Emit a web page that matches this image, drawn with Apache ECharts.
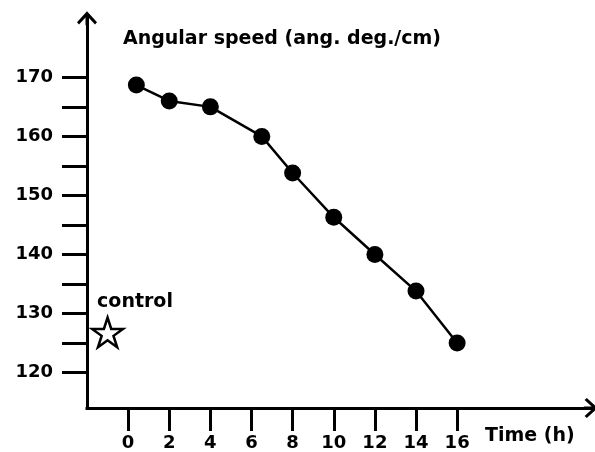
<!DOCTYPE html>
<html>
<head>
<meta charset="utf-8">
<script src="https://cdn.jsdelivr.net/npm/echarts@6/dist/echarts.min.js"></script>
<style>
  html, body { margin: 0; padding: 0; background: #fff; }
  #chart { width: 595px; height: 452px; }
</style>
</head>
<body>
<div id="chart"></div>
<script>
// ---- data ----
const timeH = [0.4, 2, 4, 6.5, 8, 10, 12, 14, 16];
const speed = [168.7, 166.0, 165.0, 160.0, 153.8, 146.3, 140.0, 133.8, 125.0];
const controlTime = -1;
const controlSpeed = 126.8;
const controlLabel = 'control';
const yTickValues = [120, 125, 130, 135, 140, 145, 150, 155, 160, 165, 170];
const yLabelValues = [120, 130, 140, 150, 160, 170];
const xTickValues = [0, 2, 4, 6, 8, 10, 12, 14, 16];
const titleText = 'Angular speed (ang. deg./cm)';
const xName = 'Time (h)';

const FONT = 'DejaVu Sans';
const arrowPath = 'path://M10,0 L20,11 L18,13.2 L11.5,6.1 L11.5,14 L8.5,14 L8.5,6.1 L2,13.2 L0,11 Z';
const starPath = 'path://M50,0 L61.23,34.55 L97.55,34.55 L68.17,55.9 L79.39,90.45 L50,69.1 L20.61,90.45 L31.83,55.9 L2.45,34.55 L38.77,34.55 Z';

const lineData = timeH.map((t, i) => [t, speed[i]]);

const axisCommon = {
  type: 'value',
  axisLine: {
    show: true,
    onZero: false,
    symbol: ['none', arrowPath],
    symbolSize: [20, 14],
    lineStyle: { color: '#000', width: 3, cap: 'square' }
  },
  splitLine: { show: false },
  axisTick: { show: true, inside: false, lineStyle: { color: '#000', width: 3 } },
  axisLabel: { color: '#000', fontFamily: FONT, fontWeight: 'bold', fontSize: 18 }
};

const chart = echarts.init(document.getElementById('chart'), null, { renderer: 'canvas' });
chart.setOption({
  animation: false,
  backgroundColor: '#fff',
  title: [
    {
      text: titleText, left: 123, top: 30, padding: 0,
      textStyle: { color: '#000', fontFamily: FONT, fontWeight: 'bold', fontSize: 19 }
    },
    {
      text: xName, left: 485, top: 427, padding: 0,
      textStyle: { color: '#000', fontFamily: FONT, fontWeight: 'bold', fontSize: 19 }
    }
  ],
  grid: { left: 87, right: 4.2, top: 18.3, bottom: 43, containLabel: false },
  xAxis: Object.assign({}, axisCommon, {
    min: -2, max: 22.5,
    axisTick: Object.assign({}, axisCommon.axisTick, { length: 23, customValues: xTickValues }),
    axisLabel: Object.assign({}, axisCommon.axisLabel, { margin: 26, customValues: xTickValues })
  }),
  yAxis: Object.assign({}, axisCommon, {
    min: 114, max: 180,
    axisTick: Object.assign({}, axisCommon.axisTick, { length: 25, customValues: yTickValues }),
    axisLabel: Object.assign({}, axisCommon.axisLabel, { margin: 34, customValues: yLabelValues })
  }),
  series: [
    {
      type: 'line',
      data: lineData,
      symbol: 'circle',
      symbolSize: 17,
      lineStyle: { color: '#000', width: 2.5 },
      itemStyle: { color: '#000', opacity: 1 },
      z: 5
    },
    {
      type: 'scatter',
      data: [[controlTime, controlSpeed]],
      symbol: starPath,
      symbolSize: [31, 29.5],
      itemStyle: { color: '#fff', borderColor: '#000', borderWidth: 2.5, opacity: 1 },
      label: {
        show: true,
        formatter: controlLabel,
        position: 'top',
        align: 'left',
        offset: [-10.5, 0],
        distance: 5,
        color: '#000',
        opacity: 1,
        fontFamily: FONT,
        fontWeight: 'bold',
        fontSize: 19
      },
      z: 5
    }
  ]
});
</script>
</body>
</html>
